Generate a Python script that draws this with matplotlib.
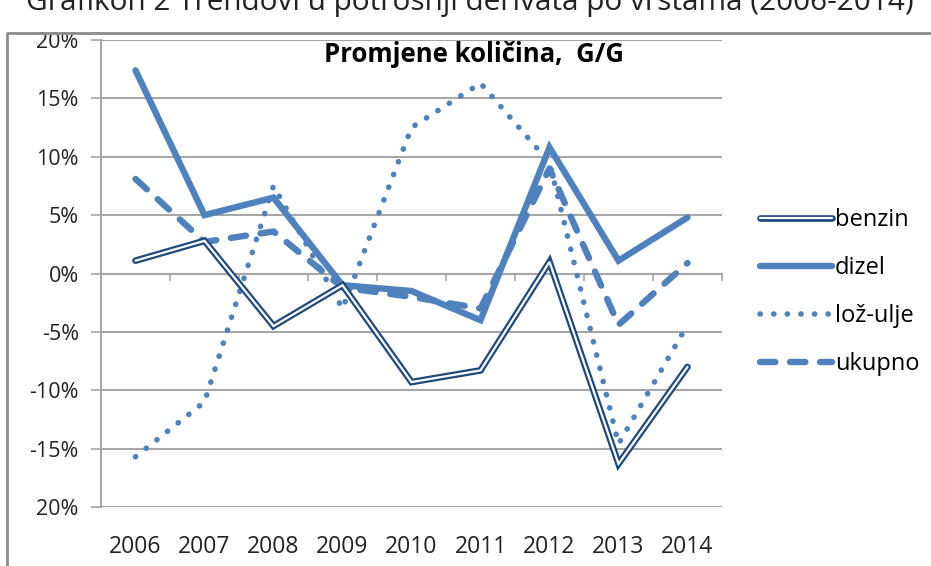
import matplotlib
matplotlib.use("Agg")
import matplotlib.pyplot as plt
import matplotlib.patheffects as pe
from matplotlib.lines import Line2D
import numpy as np

years = ["2006", "2007", "2008", "2009", "2010", "2011", "2012", "2013", "2014"]
benzin = [1.1, 2.8, -4.5, -1.0, -9.3, -8.3, 1.0, -16.3, -8.0]
dizel = [17.4, 5.0, 6.5, -1.0, -1.5, -4.0, 10.8, 1.1, 4.8]
loz_ulje = [-15.7, -11.0, 7.5, -3.0, 12.5, 16.3, 9.5, -14.6, -4.4]
ukupno = [8.1, 2.7, 3.6, -1.2, -2.0, -3.0, 9.0, -4.4, 0.9]
ytick_vals = [20, 15, 10, 5, 0, -5, -10, -15, -20]
ytick_labels = ["20%", "15%", "10%", "5%", "0%", "-5%", "-10%", "-15%", "20%"]

W, H = 931, 566
fig = plt.figure(figsize=(W / 100, H / 100), dpi=100)
fig.patch.set_facecolor("white")
ax = fig.add_axes([101 / W, 1 - 507 / H, (722 - 101) / W, (507 - 40) / H])

FONT = "Open Sans"
grid_c = "#a6a6a6"
blue = "#4F81BD"
navy = "#1F497D"
txt_c = "#222222"

x = np.arange(len(years))

ax.plot(x, benzin, color="white", lw=1.6, solid_capstyle="round", solid_joinstyle="miter",
        path_effects=[pe.Stroke(linewidth=4.8, foreground=navy), pe.Normal()],
        label="benzin", zorder=5)
ax.plot(x, dizel, color=blue, lw=4.6, solid_capstyle="round", solid_joinstyle="miter",
        label="dizel", zorder=4)
ax.plot(x, loz_ulje, color=blue, lw=4.0, linestyle=(0, (0.05, 2.4)), dash_capstyle="round",
        label="lož-ulje", zorder=3)
ax.plot(x, ukupno, color=blue, lw=4.6, linestyle=(0, (2.4, 2.3)), dash_capstyle="round",
        label="ukupno", zorder=3)

ax.set_xlim(-0.5, len(years) - 0.5)
ax.set_ylim(-20, 20)
ax.set_yticks(ytick_vals)
ax.set_yticklabels(ytick_labels, fontsize=15.5, family=FONT, color=txt_c)
ax.tick_params(axis="y", length=7, width=1.2, color=grid_c, pad=9)
ax.grid(axis="y", color=grid_c, lw=1.5)
ax.set_axisbelow(True)

for s in ["top", "right"]:
    ax.spines[s].set_visible(False)
ax.spines["left"].set_color(grid_c)
ax.spines["left"].set_linewidth(1.5)
ax.spines["bottom"].set_position(("data", 0))
ax.spines["bottom"].set_color(grid_c)
ax.spines["bottom"].set_linewidth(1.5)
ax.set_xticks(np.arange(-0.5, len(years), 1.0))
ax.set_xticklabels([])
ax.tick_params(axis="x", length=5, width=1.2, color=grid_c, direction="out")

sec = ax.secondary_xaxis("bottom")
sec.set_xticks(x)
sec.set_xticklabels(years, fontsize=16.5, family=FONT, color=txt_c)
sec.tick_params(length=0, pad=20)
sec.spines["bottom"].set_visible(False)

ax.text(0.60, 0.97, "Promjene količina,  G/G", transform=ax.transAxes, ha="center",
        va="center", fontsize=18.5, fontweight="bold", family=FONT)

leg = ax.legend(loc="center left", bbox_to_anchor=(1.042, 0.46), frameon=False,
                prop={"family": FONT, "size": 17}, handlelength=3.05, handletextpad=0.13,
                labelspacing=1.02, borderpad=0)

fig.text(0.505, 1 - 10 / H, "Grafikon 2 Trendovi u potrošnji derivata po vrstama (2006-2014)",
         ha="center", va="baseline", fontsize=21.4, family=FONT, color=txt_c)

fig.add_artist(Line2D([7 / W, 7 / W, 1.0], [0, 1 - 33 / H, 1 - 33 / H],
                      transform=fig.transFigure, color="#8c8c8c", lw=2))

fig.savefig("out.png", dpi=100, facecolor="white")
